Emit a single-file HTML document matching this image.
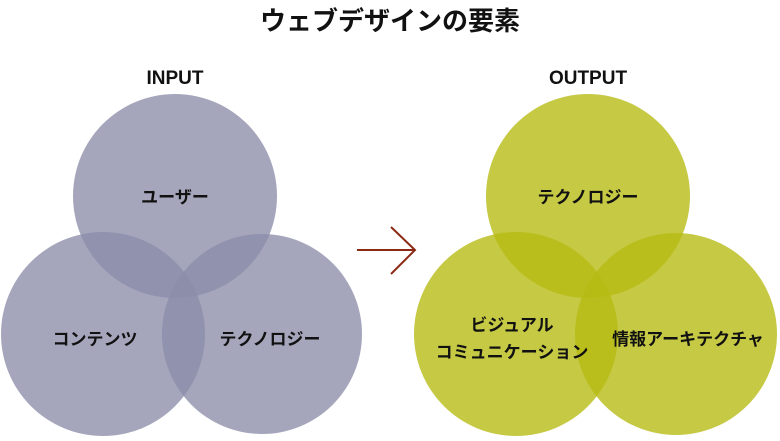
<!DOCTYPE html>
<html><head><meta charset="utf-8"><style>
body{margin:0;background:#fff}
svg text{font-family:"Liberation Sans","Noto Sans CJK JP",sans-serif;font-weight:bold;fill:#111;text-anchor:middle}
</style></head><body>
<svg width="780" height="436" viewBox="0 0 780 436">
<text x="390" y="30" font-size="26">ウェブデザインの要素</text>
<text x="175" y="84" font-size="19">INPUT</text>
<text x="588" y="84" font-size="19">OUTPUT</text>
<g fill="#8c8da9" fill-opacity="0.78">
<circle cx="175" cy="196" r="102"/>
<circle cx="103" cy="334" r="102"/>
<circle cx="262" cy="334" r="100"/>
</g>
<g fill="#b6bc14" fill-opacity="0.8">
<circle cx="588" cy="196" r="102"/>
<circle cx="516" cy="334" r="102"/>
<circle cx="676" cy="334" r="101"/>
</g>
<g stroke="#8b2a14" stroke-width="2" fill="none">
<line x1="357" y1="250" x2="415" y2="250"/>
<polyline points="391,227 415,250 391,274"/>
</g>
<g font-size="17">
<text x="175" y="203">ユーザー</text>
<text x="95" y="345">コンテンツ</text>
<text x="270" y="345">テクノロジー</text>
<text x="588" y="203">テクノロジー</text>
<text x="512" y="331">ビジュアル</text>
<text x="512" y="358">コミュニケーション</text>
<text x="688" y="345">情報アーキテクチャ</text>
</g>
</svg>
</body></html>
